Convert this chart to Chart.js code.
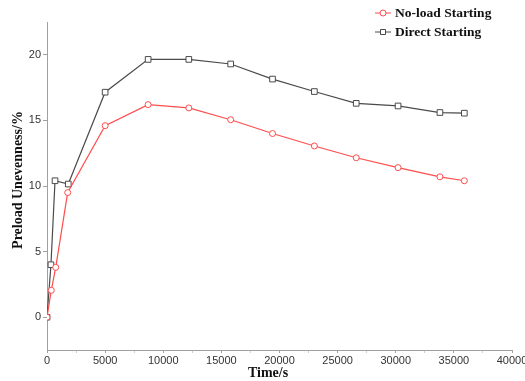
<!DOCTYPE html>
<html>
<head>
<meta charset="utf-8">
<script src="https://cdn.jsdelivr.net/npm/chart.js@4/dist/chart.umd.min.js"></script>
<style>
  html, body { margin: 0; padding: 0; background: #fff; }
  #wrap { width: 525px; height: 381px; }
</style>
</head>
<body>
<div id="wrap"><canvas id="preloadChart"></canvas></div>
<script>
// Time (s) for each sample
const timeNoLoad = [0, 370, 750, 1780, 5000, 8700, 12200, 15800, 19400, 23000, 26600, 30200, 33800, 35900];
const timeDirect = [0, 340, 690, 1830, 5000, 8700, 12200, 15800, 19400, 23000, 26600, 30200, 33800, 35900];
// Preload unevenness (%)
const noLoadStarting = [0, 2.05, 3.8, 9.5, 14.6, 16.2, 15.95, 15.05, 14.0, 13.05, 12.15, 11.4, 10.7, 10.4];
const directStarting = [0, 4.0, 10.4, 10.15, 17.15, 19.65, 19.65, 19.3, 18.15, 17.2, 16.3, 16.1, 15.6, 15.55];

const xTicks = [0, 5000, 10000, 15000, 20000, 25000, 30000, 35000, 40000];
const xMinorTicks = [2500, 7500, 12500, 17500, 22500, 27500, 32500, 37500];
const yTicks = [0, 5, 10, 15, 20];

const seriesNames = ['No-load Starting', 'Direct Starting'];
const redLine = '#ff4d4d';
const greyLine = '#4a4a4a';

const toPoints = (xs, ys) => xs.map((x, i) => ({ x: x, y: ys[i] }));

// legend + axis titles drawn by hand so they sit where the figure wants them
const annotations = {
  id: 'annotations',
  afterDraw(chart) {
    const ctx = chart.ctx;
    ctx.save();
    ctx.fillStyle = '#111';
    ctx.font = 'bold 14px "Liberation Serif", "Times New Roman", serif';
    ctx.textAlign = 'center';
    ctx.textBaseline = 'middle';
    ctx.fillText('Time/s', 268, 373);

    ctx.save();
    ctx.translate(18, 180);
    ctx.rotate(-Math.PI / 2);
    ctx.fillText('Preload Unevenness/%', 0, 0);
    ctx.restore();

    // legend rows
    const rows = [
      { y: 13, color: redLine, style: 'circle' },
      { y: 32, color: greyLine, style: 'rect' }
    ];
    ctx.font = 'bold 13.5px "Liberation Serif", "Times New Roman", serif';
    ctx.textAlign = 'left';
    rows.forEach((r, i) => {
      ctx.strokeStyle = r.color;
      ctx.lineWidth = 1;
      ctx.beginPath();
      ctx.moveTo(375, r.y);
      ctx.lineTo(391, r.y);
      ctx.stroke();
      ctx.fillStyle = '#fff';
      ctx.beginPath();
      if (r.style === 'circle') {
        ctx.arc(383, r.y, 3, 0, Math.PI * 2);
      } else {
        ctx.rect(380.5, r.y - 2.5, 5, 5);
      }
      ctx.fill();
      ctx.stroke();
      ctx.fillStyle = '#111';
      ctx.fillText(seriesNames[i], 395, r.y + 1);
    });
    ctx.restore();
  }
};

const ctx = document.getElementById('preloadChart').getContext('2d');
new Chart(ctx, {
  type: 'line',
  data: {
    datasets: [
      {
        label: seriesNames[0],
        data: toPoints(timeNoLoad, noLoadStarting),
        borderColor: redLine,
        backgroundColor: '#fff',
        borderWidth: 1.2,
        pointStyle: 'circle',
        pointRadius: 3,
        pointBorderWidth: 1,
        pointBorderColor: redLine,
        pointBackgroundColor: '#fff',
        tension: 0
      },
      {
        label: seriesNames[1],
        data: toPoints(timeDirect, directStarting),
        borderColor: greyLine,
        backgroundColor: '#fff',
        borderWidth: 1.2,
        pointStyle: 'rect',
        pointRadius: 4,
        pointBorderWidth: 1,
        pointBorderColor: greyLine,
        pointBackgroundColor: '#fff',
        tension: 0
      }
    ]
  },
  options: {
    responsive: true,
    maintainAspectRatio: false,
    animation: false,
    layout: { padding: { top: 22, right: 13, left: 0, bottom: 0 } },
    plugins: {
      legend: { display: false },
      tooltip: { enabled: false }
    },
    scales: {
      x: {
        type: 'linear',
        min: 0,
        max: 40000,
        afterBuildTicks: s => {
          s.ticks = xTicks.concat(xMinorTicks).sort((a, b) => a - b).map(v => ({ value: v }));
        },
        afterFit: s => {
          s.height = 31;
          s.paddingLeft = 0;
          s.paddingRight = 0;
        },
        border: { display: true, color: '#a0a0a0', width: 1 },
        grid: {
          drawOnChartArea: false,
          drawTicks: true,
          tickLength: 3,
          tickColor: c => (xTicks.includes(c.tick.value) ? '#a0a0a0' : '#cfcfcf')
        },
        ticks: {
          autoSkip: false,
          maxRotation: 0,
          padding: 1,
          color: '#333',
          font: { family: '"Liberation Sans", Arial, sans-serif', size: 11 },
          callback: v => (xTicks.includes(v) ? String(v) : '')
        }
      },
      y: {
        type: 'linear',
        min: -2.5,
        max: 22.5,
        afterBuildTicks: s => {
          s.ticks = yTicks.map(v => ({ value: v }));
        },
        afterFit: s => {
          s.width = 47;
          s.paddingTop = 0;
          s.paddingBottom = 0;
        },
        border: { display: true, color: '#a0a0a0', width: 1 },
        grid: {
          drawOnChartArea: false,
          drawTicks: true,
          tickLength: 4,
          tickColor: '#a0a0a0'
        },
        ticks: {
          padding: 2,
          color: '#333',
          font: { family: '"Liberation Sans", Arial, sans-serif', size: 11 }
        }
      }
    }
  },
  plugins: [annotations]
});
</script>
</body>
</html>
